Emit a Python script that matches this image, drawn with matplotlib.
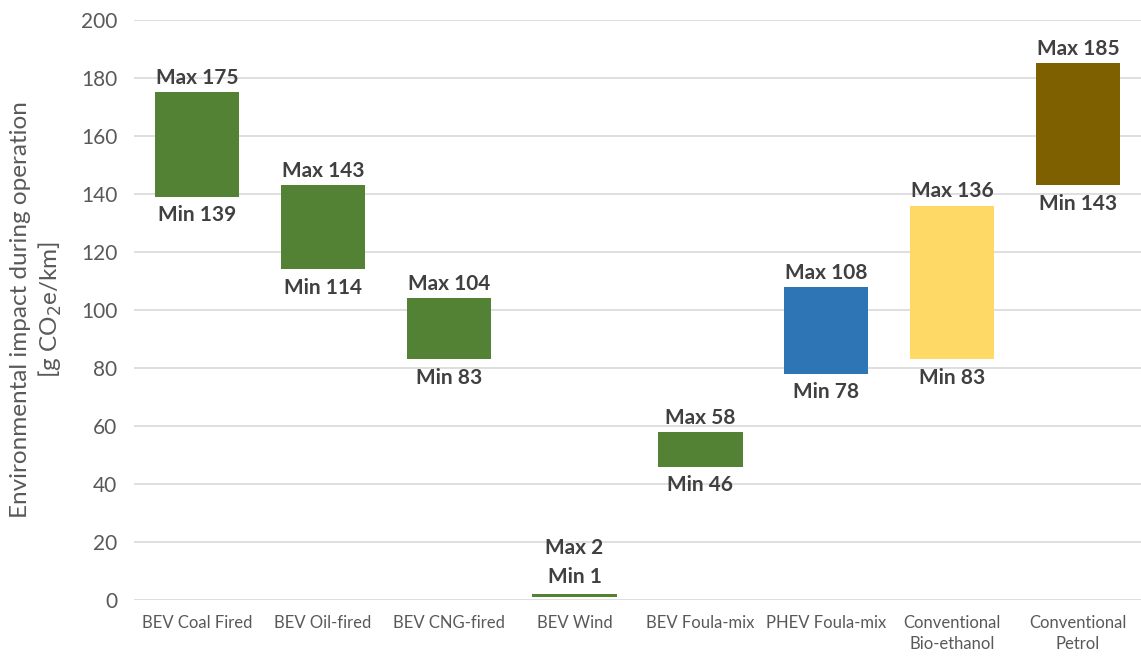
import numpy as np
import matplotlib.pyplot as plt

plt.rcParams['font.family'] = ['Lato', 'DejaVu Sans']

# Категории и значения (мин / макс)
categories = ['BEV Coal Fired', 'BEV Oil-fired', 'BEV CNG-fired', 'BEV Wind',
              'BEV Foula-mix', 'PHEV Foula-mix', 'Conventional\nBio-ethanol',
              'Conventional\nPetrol']
min_vals = [139, 114, 83, 1, 46, 78, 83, 143]
max_vals = [175, 143, 104, 2, 58, 108, 136, 185]
colors = ['#548235', '#548235', '#548235', '#548235', '#548235',
          '#2E75B6', '#FFD966', '#7F6000']

fig = plt.figure(figsize=(11.41, 6.57), dpi=100)
ax = fig.add_axes([0.1175, 0.0868, 0.8825, 0.8828])

x = np.arange(len(categories))
heights = np.array(max_vals) - np.array(min_vals)
ax.bar(x, heights, bottom=min_vals, width=0.67, color=colors, zorder=3)

txt = dict(ha='center', fontsize=15, fontweight='bold', color='#404040',
           textcoords='offset points')
for i in x:
    if heights[i] < 5:
        # маленький столбик: обе подписи сверху
        ax.annotate(f'Min {min_vals[i]}', (i, max_vals[i]), xytext=(0, 5),
                    va='bottom', **txt)
        ax.annotate(f'Max {max_vals[i]}', (i, max_vals[i]), xytext=(0, 26),
                    va='bottom', **txt)
    else:
        ax.annotate(f'Max {max_vals[i]}', (i, max_vals[i]), xytext=(0, 3),
                    va='bottom', **txt)
        ax.annotate(f'Min {min_vals[i]}', (i, min_vals[i]), xytext=(0, -6),
                    va='top', **txt)

ax.set_xlim(-0.5, len(categories) - 0.5)
ax.set_ylim(0, 200)
ax.set_yticks(np.arange(0, 201, 20))
ax.set_xticks(x)
ax.set_xticklabels(categories, fontsize=12, color='#595959', linespacing=1.35)
ax.tick_params(axis='y', labelsize=15, labelcolor='#595959', length=0, pad=12)
ax.tick_params(axis='x', length=0, pad=11)
ax.grid(axis='y', color='#D9D9D9', linewidth=1.2, zorder=0)
for s in ax.spines.values():
    s.set_visible(False)

ax.set_ylabel('Environmental impact during operation\n[g CO$_2$e/km]',
              fontsize=17.5, color='#595959', labelpad=12, linespacing=1.3)

fig.savefig('out.png', dpi=100)
